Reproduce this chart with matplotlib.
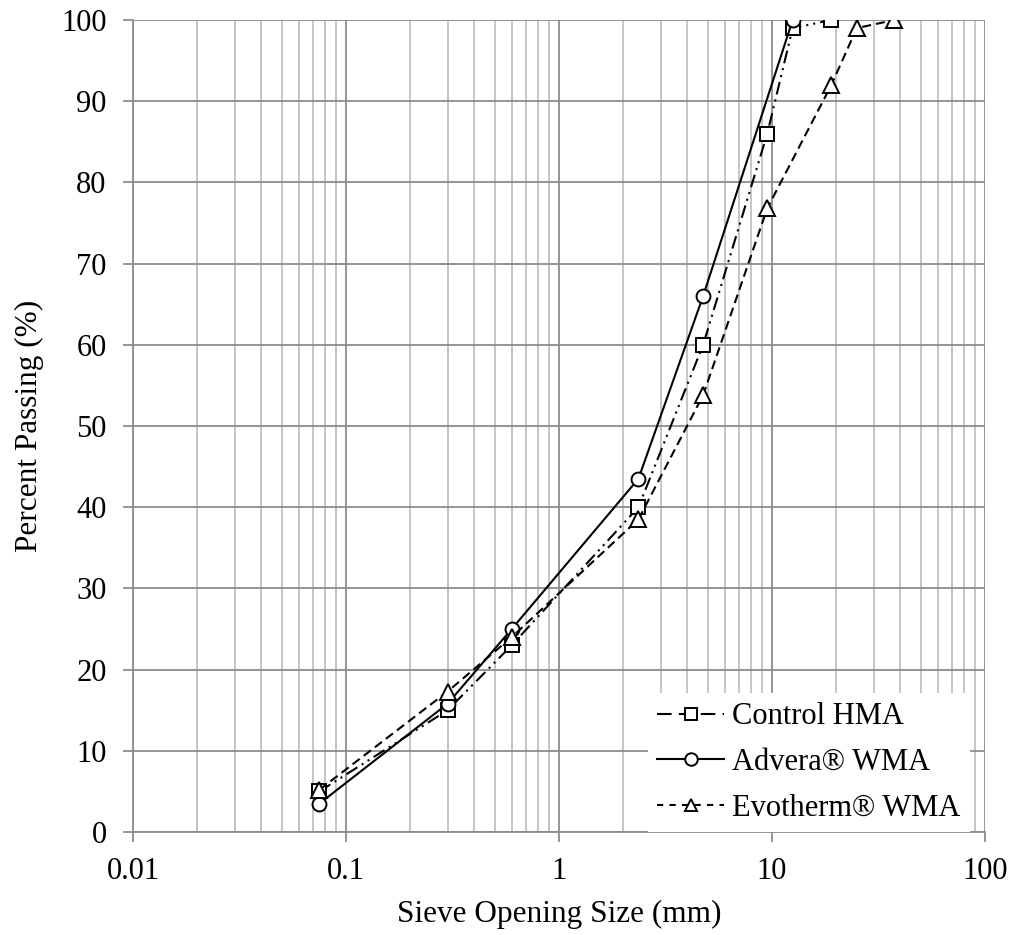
import matplotlib
matplotlib.use("Agg")
import matplotlib.pyplot as plt
from matplotlib.lines import Line2D
from matplotlib.ticker import LogLocator, NullFormatter, FixedLocator

plt.rcParams['font.family'] = ['Liberation Serif', 'DejaVu Serif']

sieve_control = [0.075, 0.3, 0.6, 2.36, 4.75, 9.5, 12.5, 19.0]
pass_control = [5.0, 15.0, 23.0, 40.0, 60.0, 86.0, 99.0, 100.0]

sieve_advera = [0.075, 0.3, 0.6, 2.36, 4.75, 12.5]
pass_advera = [3.5, 15.8, 25.0, 43.5, 66.0, 100.0]

sieve_evo = [0.075, 0.3, 0.6, 2.36, 4.75, 9.5, 19.0, 25.0, 37.5]
pass_evo = [5.2, 17.3, 24.0, 38.5, 53.8, 76.8, 92.0, 99.0, 100.0]

series_labels = ['Control HMA', 'Advera® WMA', 'Evotherm® WMA']

x_ticks = [0.01, 0.1, 1, 10, 100]
x_labels = ["0.01", "0.1", "1", "10", "100"]
y_ticks = list(range(0, 101, 10))

fig = plt.figure(figsize=(10.19, 9.35), dpi=100)
ax = fig.add_axes([133/1019, 1 - 832/935, (985-133)/1019, (832-20)/935])

fs = 22
fl = 22.5
ms = 10
lw = 1.5
mk = dict(mfc='white', mec='black', mew=1.4)
ax.plot(sieve_control, pass_control, color='black', lw=lw,
        dashes=(6.2, 2.4, 1, 2.4, 1, 2.4), marker='s', ms=ms, zorder=3, **mk)
ax.plot(sieve_advera, pass_advera, color='black', lw=lw, ls='-',
        marker='o', ms=ms, zorder=3, **mk)
ax.plot(sieve_evo, pass_evo, color='black', lw=lw, dashes=(4.3, 2.4),
        marker='^', ms=ms + 1, zorder=3, **mk)

# legend proxies (Excel-style short legend samples)
h_control = Line2D([], [], color='black', lw=lw, dashes=(7, 3.5),
                   marker='s', ms=ms - 1, **mk)
h_advera = Line2D([], [], color='black', lw=lw, ls='-',
                  marker='o', ms=ms - 1, **mk)
h_evo = Line2D([], [], color='black', lw=lw, dashes=(3, 3),
               marker='^', ms=ms - 1, **mk)

ax.set_xscale('log')
ax.set_xlim(0.01, 100)
ax.set_ylim(0, 100)
ax.xaxis.set_major_locator(FixedLocator(x_ticks))
ax.set_xticklabels(x_labels)
ax.xaxis.set_minor_locator(LogLocator(base=10, subs=range(2, 10), numticks=20))
ax.xaxis.set_minor_formatter(NullFormatter())
ax.set_yticks(y_ticks)

ax.grid(which='major', axis='both', color='#8c8c8c', lw=1.3)
ax.grid(which='minor', axis='x', color='#c0c0c0', lw=1.3)
ax.set_axisbelow(True)

for s in ['top', 'right']:
    ax.spines[s].set_visible(False)
for s in ['left', 'bottom']:
    ax.spines[s].set_color('#8c8c8c')
    ax.spines[s].set_linewidth(1.3)

ax.tick_params(axis='y', which='major', length=7, width=1.3, color='#8c8c8c',
               labelsize=fs, pad=12)
ax.tick_params(axis='x', which='major', length=7, width=1.3, color='#8c8c8c',
               labelsize=fs, pad=11)
ax.tick_params(axis='x', which='minor', length=0)

ax.set_xlabel('Sieve Opening Size (mm)', fontsize=fl, labelpad=10)
ax.set_ylabel('Percent Passing (%)', fontsize=fl, labelpad=12)

leg = ax.legend([h_control, h_advera, h_evo], series_labels,
                loc='lower right', bbox_to_anchor=(0.982, 0.0), fontsize=fs,
                frameon=True, fancybox=False, edgecolor='none', framealpha=1,
                handlelength=2.2, handletextpad=0.25, borderpad=0.3,
                borderaxespad=0, labelspacing=0.55)
leg.get_frame().set_facecolor('white')

fig.savefig('out.png', dpi=100)
